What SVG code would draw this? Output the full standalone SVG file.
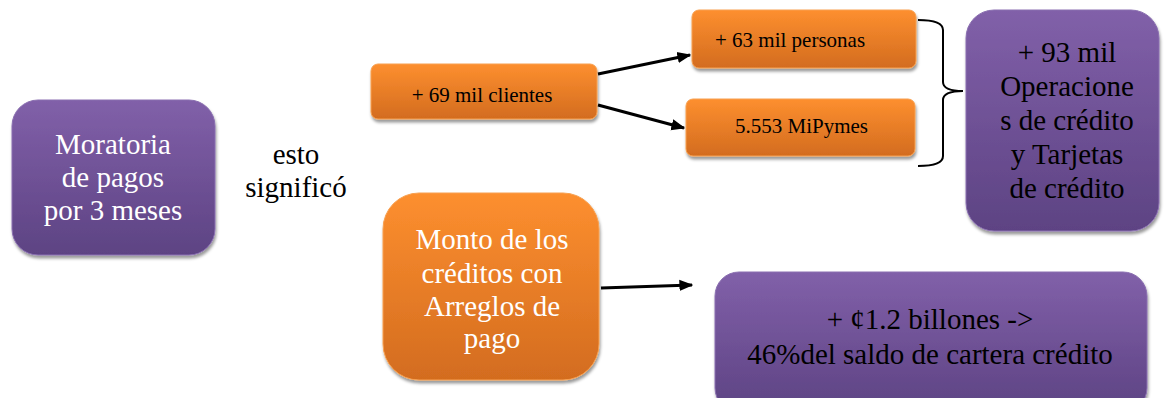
<svg xmlns="http://www.w3.org/2000/svg" width="1169" height="398" viewBox="0 0 1169 398">
<defs>
<linearGradient id="gp" x1="0" y1="0" x2="0" y2="1"><stop offset="0" stop-color="#8160a9"/><stop offset="1" stop-color="#5d4383"/></linearGradient>
<linearGradient id="go" x1="0" y1="0" x2="0" y2="1"><stop offset="0" stop-color="#fd8f2f"/><stop offset="1" stop-color="#d36c1f"/></linearGradient>
<filter id="sh" x="-10%" y="-10%" width="125%" height="130%"><feDropShadow dx="1" dy="3" stdDeviation="1.5" flood-color="#000" flood-opacity="0.4"/></filter>
<marker id="ah2" viewBox="0 0 10 10" refX="9" refY="5" markerWidth="14" markerHeight="14" markerUnits="userSpaceOnUse" orient="auto"><path d="M0,1 L10,5 L0,9 z" fill="#000"/></marker>
</defs>
<style>
.p{fill:url(#gp);stroke:#8a6fb0;stroke-width:1;filter:url(#sh)}
.o{fill:url(#go);stroke:#f7a050;stroke-width:1;filter:url(#sh)}
text{font-family:'Liberation Serif','Times New Roman','DejaVu Serif',serif}
.t{font-size:29px;text-anchor:middle}
.s{font-size:21px}
.w{fill:#fff}
.k{fill:#000}
.c{stroke:#000;stroke-width:3;fill:none}
</style>
<rect width="1169" height="398" fill="#fff"/>
<g id="n-moratoria">
<rect class="p" x="12" y="100" width="203" height="155" rx="26"/>
<text class="t w" x="113" y="154">Moratoria</text>
<text class="t w" x="113" y="187">de pagos</text>
<text class="t w" x="113" y="220">por 3 meses</text>
</g>
<g id="n-esto">
<text class="t k" x="296" y="164">esto</text>
<text class="t k" x="296" y="197">significó</text>
</g>
<g id="n-clientes">
<rect class="o" x="371" y="64" width="226" height="55" rx="7"/>
<text class="s k" x="482" y="102" text-anchor="middle">+ 69 mil clientes</text>
</g>
<g id="n-personas">
<rect class="o" x="692" y="10" width="224" height="58" rx="7"/>
<text class="s k" x="715" y="47">+ 63 mil personas</text>
</g>
<g id="n-mipymes">
<rect class="o" x="686" y="99" width="229" height="57" rx="7"/>
<text class="s k" x="735" y="133">5.553 MiPymes</text>
</g>
<g id="n-operaciones">
<rect class="p" x="966" y="10" width="193" height="221" rx="28"/>
<text class="t k" x="1067" y="62">+ 93 mil</text>
<text class="t k" x="1067" y="96">Operacione</text>
<text class="t k" x="1067" y="130">s de crédito</text>
<text class="t k" x="1067" y="164">y Tarjetas</text>
<text class="t k" x="1067" y="198">de crédito</text>
</g>
<g id="n-monto">
<rect class="o" x="383" y="193" width="216" height="187" rx="36"/>
<text class="t w" x="492" y="249">Monto de los</text>
<text class="t w" x="492" y="283">créditos con</text>
<text class="t w" x="492" y="316">Arreglos de</text>
<text class="t w" x="492" y="348">pago</text>
</g>
<g id="n-billones">
<rect class="p" x="715" y="272" width="432" height="140" rx="24"/>
<text class="t k" x="930" y="329">+ ¢1.2 billones -&gt;</text>
<text class="t k" x="930" y="364">46%del saldo de cartera crédito</text>
</g>
<g id="connectors">
<line class="c" x1="598" y1="74" x2="690" y2="55" marker-end="url(#ah2)"/>
<line class="c" x1="598" y1="105" x2="684" y2="128" marker-end="url(#ah2)"/>
<line class="c" x1="601" y1="288" x2="692" y2="285" marker-end="url(#ah2)"/>
<path d="M918,20 Q943,20 943,30 L943,82 Q943,91 963,91 Q943,91 943,100 L943,156 Q943,166 918,166" stroke="#000" stroke-width="2" fill="none"/>
</g>
</svg>
